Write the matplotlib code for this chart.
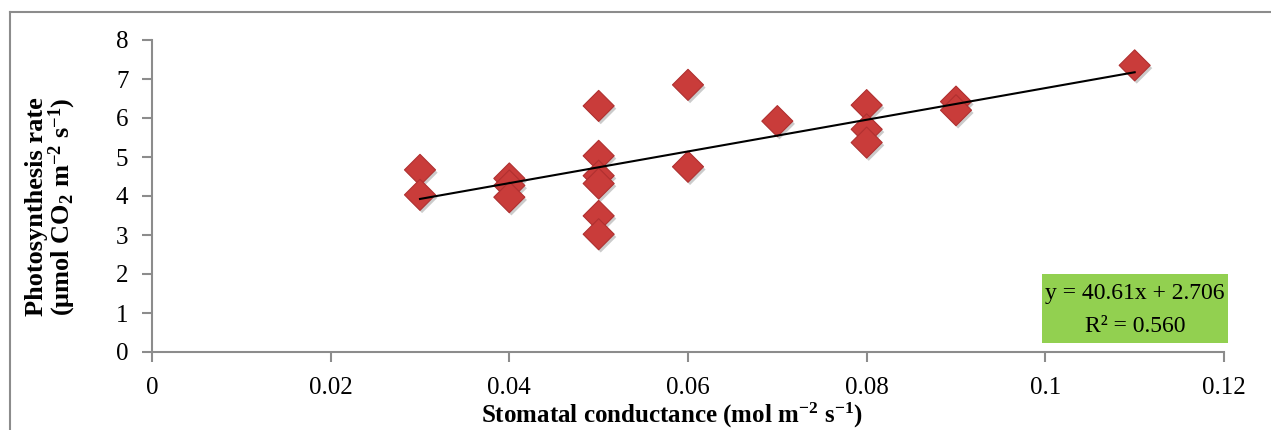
import numpy as np
import matplotlib
matplotlib.use("Agg")
import matplotlib.pyplot as plt
import matplotlib.patheffects as pe
from matplotlib.patches import Rectangle
from matplotlib.lines import Line2D

plt.rcParams['font.family'] = ['Liberation Serif', 'DejaVu Serif']
plt.rcParams['mathtext.fontset'] = 'custom'
plt.rcParams['mathtext.rm'] = 'Liberation Serif'
plt.rcParams['mathtext.bf'] = 'Liberation Serif:bold'
plt.rcParams['mathtext.default'] = 'bf'

# stomatal conductance vs photosynthesis rate
conductance = [0.03, 0.03,
               0.04, 0.04, 0.04,
               0.05, 0.05, 0.05, 0.05, 0.05, 0.05,
               0.06, 0.06,
               0.07,
               0.08, 0.08, 0.08,
               0.09, 0.09,
               0.11]
photosynthesis = [4.67, 4.03,
                  4.45, 4.27, 3.97,
                  6.31, 5.03, 4.52, 4.32, 3.49, 3.02,
                  6.85, 4.75,
                  5.92,
                  6.33, 5.71, 5.37,
                  6.42, 6.20,
                  7.35]

slope = 40.61
intercept = 2.706
r2 = 0.560

fig = plt.figure(figsize=(12.71, 4.30), dpi=100)
ax = fig.add_axes([152 / 1271, 1 - 352 / 430, (1224 - 152) / 1271, (352 - 40) / 430])

gray = '#8c8c8c'

ax.scatter(conductance, photosynthesis, marker='D', s=250, color='#C93C3A',
           edgecolors='#B03030', linewidths=0.8, zorder=3,
           path_effects=[pe.SimplePatchShadow(offset=(1.5, -2), alpha=0.3, shadow_rgbFace='#555555'),
                         pe.Normal()])

xfit = np.array([min(conductance), max(conductance)])
ax.plot(xfit, slope * xfit + intercept, color='black', lw=1.5, zorder=4)

ax.set_xlim(0, 0.12)
ax.set_ylim(0, 8)
ax.set_xticks(np.arange(0, 0.121, 0.02))
ax.set_xticklabels(['0', '0.02', '0.04', '0.06', '0.08', '0.1', '0.12'])
ax.set_yticks(range(0, 9))
for s in ['top', 'right']:
    ax.spines[s].set_visible(False)
for s in ['left', 'bottom']:
    ax.spines[s].set_color(gray)
    ax.spines[s].set_linewidth(1.5)
ax.tick_params(axis='both', colors=gray, labelcolor='black', labelsize=18,
               length=7, width=1.5, direction='out')
ax.tick_params(axis='x', pad=11)
ax.tick_params(axis='y', pad=10)

fig.text(37 / 1271, 1 - 207 / 430, 'Photosynthesis rate', rotation=90, ha='center', va='center',
         fontsize=19, fontweight='bold')
fig.text(62 / 1271, 1 - 207 / 430, r'($\mathbf{\mu}$mol CO$_2$ m$^{-2}$ s$^{-1}$)', rotation=90,
         ha='center', va='center', fontsize=19, fontweight='bold')
fig.text(672 / 1271, 1 - 415 / 430, r'Stomatal conductance (mol m$^{-2}$ s$^{-1}$)',
         ha='center', va='center', fontsize=18, fontweight='bold')

# trendline equation box
fig.patches.append(Rectangle((1042 / 1271, 1 - 343 / 430), 186 / 1271, 69 / 430,
                             transform=fig.transFigure, facecolor='#92D050',
                             edgecolor='none', zorder=5))
fig.text(1135 / 1271, 1 - 293 / 430, f'y = {slope}x + {intercept}',
         ha='center', va='center', fontsize=17, zorder=6)
fig.text(1135 / 1271, 1 - 326 / 430, f'R² = {r2:.3f}',
         ha='center', va='center', fontsize=17, zorder=6)

# chart area border
fig.add_artist(Line2D([10 / 1271, 1], [1 - 12 / 430] * 2, transform=fig.transFigure,
                      color=gray, lw=1.5))
fig.add_artist(Line2D([10 / 1271] * 2, [0, 1 - 12 / 430], transform=fig.transFigure,
                      color=gray, lw=1.5))

fig.savefig('out.png', dpi=100)
